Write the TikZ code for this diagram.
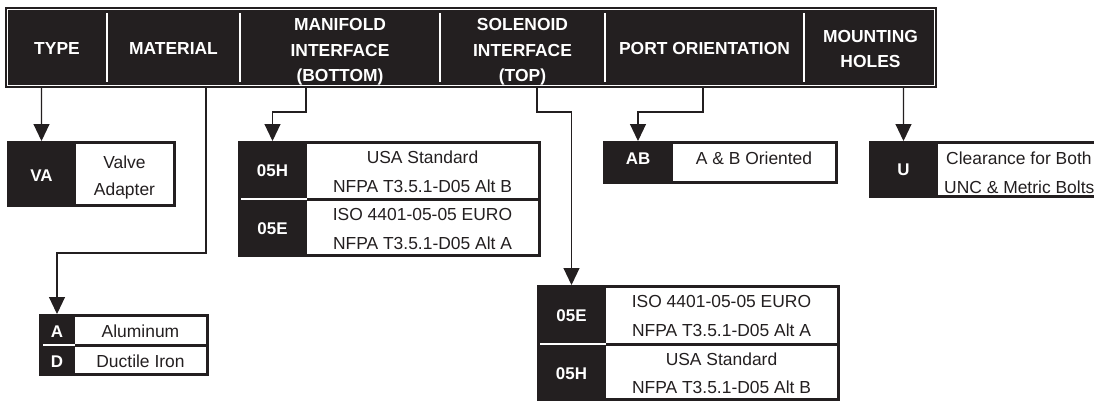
\documentclass[tikz,border=0pt]{standalone}
\usepackage{fontspec}
\setmainfont{Liberation Sans}
\usetikzlibrary{arrows.meta}
\definecolor{ink}{HTML}{231F20}
\newcommand\hdrfont{\fontsize{17.5}{20}\selectfont\bfseries}
\newcommand\keyfont{\fontsize{17}{20}\selectfont\bfseries}
\newcommand\txtfont{\fontsize{17.5}{20}\selectfont}
\tikzset{
 hdr/.style={text=white, font=\hdrfont, inner sep=0pt, text height=12.6bp, text depth=0pt},
 lbl/.style={text=white, font=\keyfont, inner sep=0pt, text height=12.2bp, text depth=0pt},
 txt/.style={text=ink, font=\txtfont, inner sep=0pt, text height=12.6bp, text depth=0pt},
 cell/.style={fill=ink, inner sep=0pt, outer sep=0pt, anchor=north west},
 conn/.style={draw=ink, line width=1.1bp, -{Triangle[width=16bp,length=17bp]}},
 colsep/.style={draw=white, line width=2.7bp},
 rowsep/.style={draw=white, line width=2bp},
}
\begin{document}
\begin{tikzpicture}[x=1bp,y=-1bp]
\useasboundingbox (0,0) rectangle (1094,402);
\clip (0,0) rectangle (1094,402);
% header bar
\fill[ink] (5,7) rectangle (937,88);
\draw[white, line width=0.8bp] (7.2,9.2) rectangle (934.8,85.8);
\foreach \xx in {107,240,440,605,804} \draw[colsep] (\xx,13) -- (\xx,82);
\node[hdr] (hType) at (57,48.5) {TYPE};
\node[hdr] (hMat) at (173.5,48.5) {MATERIAL};
\node[hdr] (hMan1) at (340,24.5) {MANIFOLD};
\node[hdr] (hMan2) at (340,50) {INTERFACE};
\node[hdr] (hMan3) at (340,75.5) {(BOTTOM)};
\node[hdr] (hSol1) at (522.5,24.5) {SOLENOID};
\node[hdr] (hSol2) at (522.5,50) {INTERFACE};
\node[hdr] (hSol3) at (522.5,75.5) {(TOP)};
\node[hdr] (hPort) at (704.5,48.5) {PORT ORIENTATION};
\node[hdr] (hMnt1) at (870.5,36) {MOUNTING};
\node[hdr] (hMnt2) at (870.5,61) {HOLES};
% connector start points on header bottom
\coordinate (tType) at (41.5,88);
\coordinate (tMat) at (206,88);
\coordinate (tMan) at (306,88);
\coordinate (tSol) at (537,88);
\coordinate (tPort) at (703,88);
\coordinate (tMnt) at (903.5,88);

% TYPE box
\fill[ink] (7,141) rectangle (176,207);
\node[cell, minimum width=69bp, minimum height=66bp] (cVA) at (7,141) {};
\fill[white] (76,144) rectangle (173,204);
\node[lbl] (lVA) at (41.5,175) {VA};
\node[txt] (tVal) at (124.5,162) {Valve};
\node[txt] (tAda) at (124.5,189.5) {Adapter};

% MATERIAL box
\fill[ink] (39,314) rectangle (209,376);
\node[cell, minimum width=36bp, minimum height=31bp] (cA) at (39,314) {};
\node[cell, minimum width=36bp, minimum height=31bp] (cD) at (39,345) {};
\draw[rowsep] (43,345) -- (75,345);
\fill[white] (75,317) rectangle (206,343.5);
\fill[white] (75,346.5) rectangle (206,373);
\node[lbl] (lA) at (57,331) {A};
\node[lbl] (lD) at (57,361) {D};
\node[txt] (tAlu) at (140.5,331) {Aluminum};
\node[txt] (tDuc) at (140.5,361) {Ductile Iron};

% MANIFOLD box
\fill[ink] (238,141) rectangle (541,257);
\node[cell, minimum width=69bp, minimum height=58bp] (m05H) at (238,141) {};
\node[cell, minimum width=69bp, minimum height=58bp] (m05E) at (238,199) {};
\draw[rowsep] (241,199) -- (307,199);
\fill[white] (307,144) rectangle (538,197.5);
\fill[white] (307,200.5) rectangle (538,254);
\node[lbl] (lm05H) at (272.5,170.5) {05H};
\node[lbl] (lm05E) at (272.5,228.5) {05E};
\node[txt] (mt1) at (422.5,157.5) {USA Standard};
\node[txt] (mt2) at (422.5,186) {NFPA T3.5.1-D05 Alt B};
\node[txt] (mt3) at (422.5,214.5) {ISO 4401-05-05 EURO};
\node[txt] (mt4) at (422.5,243) {NFPA T3.5.1-D05 Alt A};

% SOLENOID box
\fill[ink] (537,285) rectangle (840,401);
\node[cell, minimum width=69bp, minimum height=58bp] (s05E) at (537,285) {};
\node[cell, minimum width=69bp, minimum height=58bp] (s05H) at (537,343) {};
\draw[rowsep] (540,344) -- (606,344);
\fill[white] (606,288) rectangle (837,342.5);
\fill[white] (606,345.5) rectangle (837,398);
\node[lbl] (ls05E) at (571.5,315) {05E};
\node[lbl] (ls05H) at (571.5,373) {05H};
\node[txt] (st1) at (721.5,301.5) {ISO 4401-05-05 EURO};
\node[txt] (st2) at (721.5,330) {NFPA T3.5.1-D05 Alt A};
\node[txt] (st3) at (721.5,359) {USA Standard};
\node[txt] (st4) at (721.5,387.5) {NFPA T3.5.1-D05 Alt B};

% PORT box
\fill[ink] (603,141) rectangle (838,184);
\node[cell, minimum width=70bp, minimum height=43bp] (cAB) at (603,141) {};
\fill[white] (673,144) rectangle (835,181);
\node[lbl] (lAB) at (638,158) {AB};
\node[txt] (tAB) at (754,158) {A \& B Oriented};

% MOUNTING box
\fill[ink] (869,141) rectangle (1110,198);
\node[cell, minimum width=69bp, minimum height=57bp] (cU) at (869,141) {};
\fill[white] (938,144) rectangle (1110,195);
\node[lbl] (lU) at (903.5,169) {U};
\node[txt, anchor=west] (tCl) at (946,158) {Clearance for Both};
\node[txt, anchor=west] (tUnc) at (944,187) {UNC \& Metric Bolts};

% connectors
\draw[conn] (tType) -- (cVA.north);
\draw[conn] (tMat) -- ++(0,165) -| (cA.north);
\draw[conn] (tMan) -- ++(0,24) -| (m05H.north);
\draw[conn] (tSol) -- ++(0,24) -| (s05E.north);
\draw[conn] (tPort) -- ++(0,24) -| (cAB.north);
\draw[conn] (tMnt) -- (cU.north);
\end{tikzpicture}
\end{document}
